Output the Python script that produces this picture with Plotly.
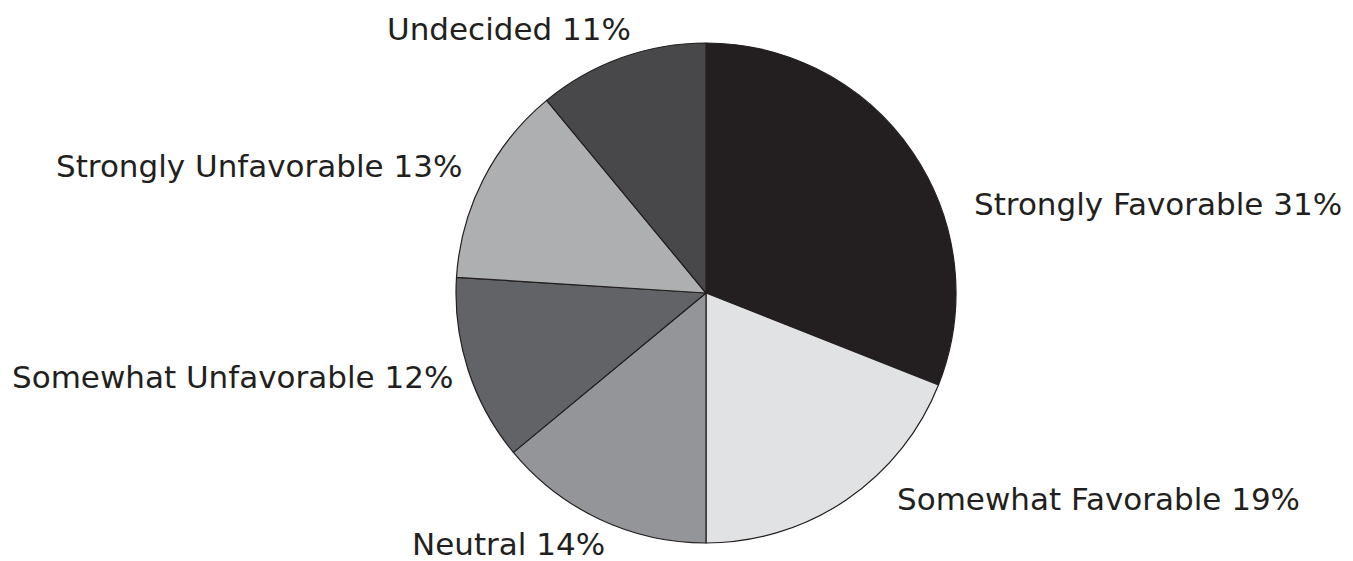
import plotly.graph_objects as go

categories = ["Strongly Favorable", "Somewhat Favorable", "Neutral",
              "Somewhat Unfavorable", "Strongly Unfavorable", "Undecided"]
values = [31, 19, 14, 12, 13, 11]
colors = ["#231f20", "#e1e2e3", "#939598", "#626366", "#adafb1", "#48484a"]

# label placement (paper pixels, left-anchored)
label_x = [973, 896, 411, 11, 55, 386]
label_y = [204, 499, 544, 377, 166, 29]

W, H = 1353, 561
FONT = "DejaVu Sans"

fig = go.Figure(go.Pie(
    labels=categories,
    values=values,
    sort=False,
    direction="clockwise",
    rotation=0,
    marker=dict(colors=colors, line=dict(color="#231f20", width=1.2)),
    textinfo="none",
    hoverinfo="label+percent",
    domain=dict(x=[455 / W, 957 / W], y=[1 - 543 / H, 1 - 43 / H]),
    showlegend=False,
))

annotations = []
for cat, v, lx, ly in zip(categories, values, label_x, label_y):
    annotations.append(dict(
        text=f"{cat} {v}%",
        x=lx / W, y=1 - ly / H, xref="paper", yref="paper",
        xanchor="left", yanchor="middle", showarrow=False,
        borderpad=0,
        font=dict(family=FONT, size=31, color="#231f20"),
    ))

fig.update_layout(
    width=W, height=H,
    margin=dict(l=0, r=0, t=0, b=0),
    paper_bgcolor="white", plot_bgcolor="white",
    annotations=annotations,
)

fig.write_html("out.html", config={"displayModeBar": False},
               post_script="document.body.style.margin='0';")
